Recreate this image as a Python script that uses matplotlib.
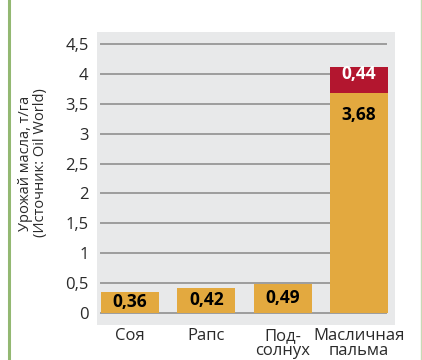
import matplotlib
matplotlib.use('Agg')
import matplotlib.pyplot as plt
from matplotlib.lines import Line2D

plt.rcParams['font.family'] = ['Open Sans', 'DejaVu Sans']

crops = ['Соя', 'Рапс', 'Под-\nсолнух', 'Масличная\nпальма']
base = [0.36, 0.42, 0.49, 3.68]
extra = [0, 0, 0, 0.44]
base_labels = ['0,36', '0,42', '0,49', '3,68']
extra_labels = ['', '', '', '0,44']
yticks = [0, 0.5, 1, 1.5, 2, 2.5, 3, 3.5, 4, 4.5]
ytick_labels = ['0', '0,5', '1', '1,5', '2', '2,5', '3', '3,5', '4', '4,5']

orange = '#E3A93F'
red = '#B3162F'
panel = '#E8E9EA'
grid = '#9C9C9C'
text = '#2A2A2A'

fig = plt.figure(figsize=(4.22, 3.60), dpi=100)
W, H = 422, 360
ax = fig.add_axes([97 / W, 1 - 325 / H, 298 / W, 293 / H])
ax.set_facecolor(panel)
ax.set_xlim(-0.43, 3.47)
ax.set_ylim(-0.2, 4.7)

for y in yticks:
    ax.axhline(y, xmin=0.013, xmax=0.97, color=grid, lw=1.4, zorder=1)

x = list(range(len(crops)))
ax.bar(x, base, width=0.76, color=orange, zorder=2)
ax.bar(x, extra, bottom=base, width=0.76, color=red, zorder=2)

for i, (b, e) in enumerate(zip(base, extra)):
    if e:
        ax.text(i, b - 0.37, base_labels[i], ha='center', va='center',
                fontsize=12.5, fontweight='bold', color='black', zorder=3)
        ax.text(i, b + e / 2 + 0.1, extra_labels[i], ha='center',
                va='center', fontsize=12.5, fontweight='bold', color='white',
                zorder=3)
    else:
        ax.text(i, b / 2, base_labels[i], ha='center', va='center',
                fontsize=12.5, fontweight='bold', color='black', zorder=3)

ax.set_yticks(yticks)
ax.set_yticklabels(ytick_labels)
ax.set_xticks(x)
ax.set_xticklabels(crops, linespacing=0.9)
ax.tick_params(axis='both', length=0, labelsize=12, colors=text)
ax.tick_params(axis='y', pad=6)
ax.tick_params(axis='x', pad=2)
for s in ax.spines.values():
    s.set_visible(False)

fig.text(33 / W, 1 - 163 / H, 'Урожай масла, т/га\n(Источник: Oil World)',
         rotation=90, ha='center', va='center', fontsize=10.5, color=text,
         linespacing=1.0)

fig.add_artist(Line2D([8.5 / W, 8.5 / W], [0, 1], color='#93B872', lw=2.2))
fig.add_artist(Line2D([421 / W, 421 / W], [0, 1], color='#C8DAB5', lw=1))

fig.savefig('out.png', dpi=100)
